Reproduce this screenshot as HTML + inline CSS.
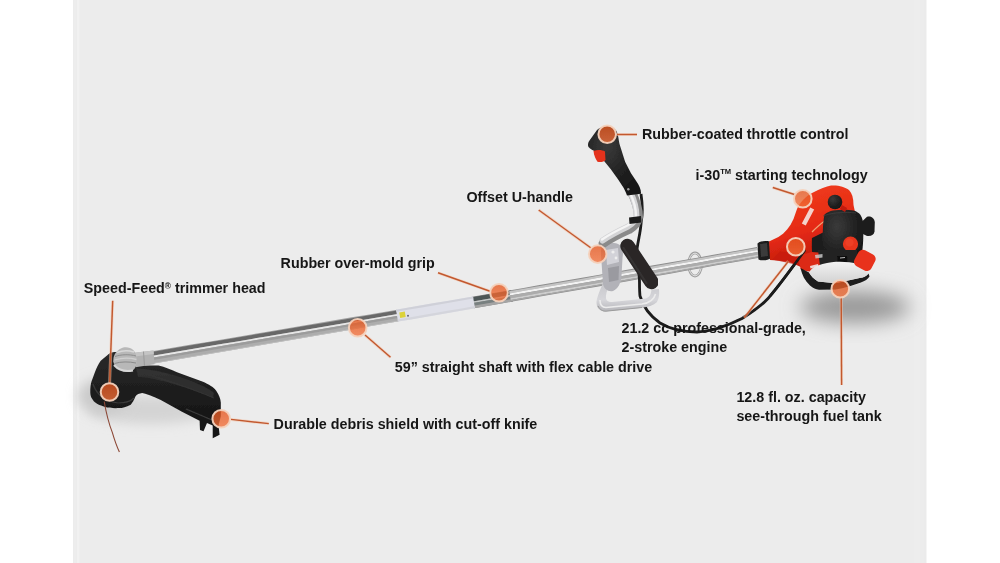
<!DOCTYPE html>
<html><head><meta charset="utf-8">
<style>
html,body{margin:0;padding:0;background:#fff;}
body{width:1000px;height:563px;overflow:hidden;position:relative;}
#panel{position:absolute;left:73px;top:0;width:854px;height:563px;background:#ececec;}
.st{position:absolute;top:0;height:563px;}
svg{position:absolute;left:0;top:0;}
text{font-family:"Liberation Sans",sans-serif;font-weight:bold;font-size:14.3px;fill:#151515;}
</style></head>
<body>
<div id="panel"></div>
<div class="st" style="left:74px;width:2px;background:#ededed"></div>
<div class="st" style="left:77px;width:2px;background:#f1f1f1"></div>
<div class="st" style="left:79px;width:1px;background:#eeeeee"></div>
<div class="st" style="left:914px;width:6px;background:#ededed"></div>
<div class="st" style="left:924px;width:2px;background:#ebebeb"></div>
<div class="st" style="left:926px;width:1px;background:#f5f5f5"></div>
<svg width="1000" height="563" viewBox="0 0 1000 563">
<defs>
  <filter id="blur10" x="-60%" y="-60%" width="220%" height="220%"><feGaussianBlur stdDeviation="10"/></filter>
  <filter id="blur6" x="-60%" y="-60%" width="220%" height="220%"><feGaussianBlur stdDeviation="6"/></filter>
  <filter id="tb" x="-5%" y="-30%" width="110%" height="160%"><feGaussianBlur stdDeviation="0.3"/></filter>
  <filter id="sb" x="-5%" y="-50%" width="110%" height="200%"><feGaussianBlur stdDeviation="0.55"/></filter>
  <filter id="b5" x="-20%" y="-20%" width="140%" height="140%"><feGaussianBlur stdDeviation="0.5"/></filter>
  <filter id="b7" x="-20%" y="-20%" width="140%" height="140%"><feGaussianBlur stdDeviation="0.65"/></filter>
  <filter id="b8" x="-20%" y="-20%" width="140%" height="140%"><feGaussianBlur stdDeviation="0.8"/></filter>
  <linearGradient id="gHead" x1="0" y1="0" x2="0" y2="1">
    <stop offset="0" stop-color="#2a2a2a"/><stop offset="0.5" stop-color="#1c1c1c"/><stop offset="1" stop-color="#121212"/>
  </linearGradient>
  <linearGradient id="gSilverV" x1="0" y1="0" x2="0" y2="1">
    <stop offset="0" stop-color="#d2d2d2"/><stop offset="0.45" stop-color="#b4b4b4"/><stop offset="1" stop-color="#7c7c7c"/>
  </linearGradient>
  <linearGradient id="gSilverH" x1="0" y1="0" x2="1" y2="0">
    <stop offset="0" stop-color="#8a8a8a"/><stop offset="0.35" stop-color="#e6e6e6"/><stop offset="0.7" stop-color="#b0b0b0"/><stop offset="1" stop-color="#6e6e6e"/>
  </linearGradient>
  <radialGradient id="gGear" cx="0.4" cy="0.35" r="0.7">
    <stop offset="0" stop-color="#e0e0e0"/><stop offset="0.6" stop-color="#a8a8a8"/><stop offset="1" stop-color="#707070"/>
  </radialGradient>
  <linearGradient id="gRed" x1="0" y1="0" x2="0.3" y2="1">
    <stop offset="0" stop-color="#f2401f"/><stop offset="0.6" stop-color="#e52a14"/><stop offset="1" stop-color="#b8180c"/>
  </linearGradient>
  <linearGradient id="gCirc" x1="0" y1="0" x2="0" y2="1">
    <stop offset="0" stop-color="#e4561f"/><stop offset="1" stop-color="#f2703a"/>
  </linearGradient>
  <linearGradient id="gLoop" x1="0" y1="0" x2="0" y2="1">
    <stop offset="0" stop-color="#c8c8cc"/><stop offset="0.6" stop-color="#d6d6da"/><stop offset="1" stop-color="#b4b4b8"/>
  </linearGradient>
  <linearGradient id="gTank" x1="0" y1="0" x2="0" y2="1">
    <stop offset="0" stop-color="#f2f2f2"/><stop offset="1" stop-color="#d2d2d2"/>
  </linearGradient>
  <radialGradient id="gBlack" cx="0.35" cy="0.3" r="0.8">
    <stop offset="0" stop-color="#3a3a3a"/><stop offset="0.6" stop-color="#202020"/><stop offset="1" stop-color="#151515"/>
  </radialGradient>
</defs>

<ellipse cx="855" cy="307" rx="55" ry="16" fill="#979797" filter="url(#blur10)"/>
<ellipse cx="150" cy="410" rx="62" ry="14" fill="#d4d4d4" filter="url(#blur6)"/>
<ellipse cx="104" cy="396" rx="26" ry="18" fill="#cacaca" filter="url(#blur6)"/>

<g filter="url(#b5)">
<ellipse cx="695" cy="264.5" rx="6.6" ry="11.6" fill="none" stroke="#a0a0a0" stroke-width="2.6"/>
<ellipse cx="695" cy="264.5" rx="6.4" ry="11.4" fill="none" stroke="#e4e4e4" stroke-width="1"/>
</g>
<g filter="url(#sb)">
<path d="M149.0,351.7 L163.6,349.2 L178.1,346.8 L192.7,344.3 L207.3,341.9 L221.9,339.4 L236.5,337.0 L251.1,334.5 L265.7,332.0 L280.3,329.6 L294.9,327.1 L309.5,324.6 L324.0,322.1 L338.6,319.6 L353.2,317.1 L367.8,314.7 L382.4,312.2 L397.0,309.7 L399.0,321.3 L384.4,323.8 L369.8,326.3 L355.2,328.9 L340.7,331.4 L326.1,333.9 L311.5,336.4 L296.9,338.9 L282.3,341.5 L267.7,344.0 L253.1,346.5 L238.6,349.0 L224.0,351.5 L209.4,354.0 L194.8,356.5 L180.2,358.9 L165.6,361.4 L151.0,363.9Z" fill="#a0a0a0"/>
<path d="M149.1,352.4 L163.7,350.0 L178.3,347.5 L192.9,345.1 L207.5,342.6 L222.0,340.2 L236.6,337.7 L251.2,335.2 L265.8,332.8 L280.4,330.3 L295.0,327.8 L309.6,325.3 L324.2,322.9 L338.8,320.4 L353.4,317.9 L367.9,315.4 L382.5,312.9 L397.1,310.4 L397.7,313.9 L383.1,316.4 L368.6,318.9 L354.0,321.4 L339.4,323.9 L324.8,326.4 L310.2,328.9 L295.6,331.4 L281.0,333.9 L266.4,336.4 L251.8,338.9 L237.3,341.4 L222.7,343.8 L208.1,346.3 L193.5,348.8 L178.9,351.2 L164.3,353.7 L149.7,356.2Z" fill="#686868"/>
<path d="M149.7,356.2 L164.3,353.7 L178.9,351.2 L193.5,348.8 L208.1,346.3 L222.7,343.8 L237.3,341.4 L251.8,338.9 L266.4,336.4 L281.0,333.9 L295.6,331.4 L310.2,328.9 L324.8,326.4 L339.4,323.9 L354.0,321.4 L368.6,318.9 L383.1,316.4 L397.7,313.9 L398.1,315.8 L383.5,318.3 L368.9,320.8 L354.3,323.3 L339.7,325.9 L325.1,328.4 L310.5,330.9 L295.9,333.4 L281.4,335.8 L266.8,338.3 L252.2,340.8 L237.6,343.3 L223.0,345.8 L208.4,348.3 L193.8,350.7 L179.2,353.2 L164.6,355.7 L150.1,358.1Z" fill="#e6e6e6"/>
<path d="M150.1,358.1 L164.6,355.7 L179.2,353.2 L193.8,350.7 L208.4,348.3 L223.0,345.8 L237.6,343.3 L252.2,340.8 L266.8,338.3 L281.4,335.8 L295.9,333.4 L310.5,330.9 L325.1,328.4 L339.7,325.9 L354.3,323.3 L368.9,320.8 L383.5,318.3 L398.1,315.8 L398.4,318.1 L383.9,320.6 L369.3,323.1 L354.7,325.6 L340.1,328.1 L325.5,330.7 L310.9,333.2 L296.3,335.7 L281.7,338.2 L267.2,340.7 L252.6,343.2 L238.0,345.7 L223.4,348.1 L208.8,350.6 L194.2,353.1 L179.6,355.6 L165.0,358.1 L150.5,360.5Z" fill="#9c9c9c"/>
<path d="M150.5,360.5 L165.0,358.1 L179.6,355.6 L194.2,353.1 L208.8,350.6 L223.4,348.1 L238.0,345.7 L252.6,343.2 L267.2,340.7 L281.7,338.2 L296.3,335.7 L310.9,333.2 L325.5,330.7 L340.1,328.1 L354.7,325.6 L369.3,323.1 L383.9,320.6 L398.4,318.1 L398.9,320.6 L384.3,323.1 L369.7,325.6 L355.1,328.1 L340.5,330.7 L325.9,333.2 L311.4,335.7 L296.8,338.2 L282.2,340.7 L267.6,343.2 L253.0,345.7 L238.4,348.2 L223.8,350.7 L209.3,353.2 L194.7,355.7 L180.1,358.2 L165.5,360.7 L150.9,363.2Z" fill="#adadad"/>
<path d="M150.9,363.2 L165.5,360.7 L180.1,358.2 L194.7,355.7 L209.3,353.2 L223.8,350.7 L238.4,348.2 L253.0,345.7 L267.6,343.2 L282.2,340.7 L296.8,338.2 L311.4,335.7 L325.9,333.2 L340.5,330.7 L355.1,328.1 L369.7,325.6 L384.3,323.1 L398.9,320.6 L399.0,321.3 L384.4,323.8 L369.8,326.3 L355.2,328.9 L340.7,331.4 L326.1,333.9 L311.5,336.4 L296.9,338.9 L282.3,341.5 L267.7,344.0 L253.1,346.5 L238.6,349.0 L224.0,351.5 L209.4,354.0 L194.8,356.5 L180.2,358.9 L165.6,361.4 L151.0,363.9Z" fill="#c4c4c4"/>
</g>
<g filter="url(#sb)">
<path d="M472.0,296.8 L485.0,294.5 L498.0,292.3 L511.0,290.1 L513.0,301.4 L500.0,303.7 L487.0,306.0 L474.0,308.2Z" fill="#868686"/>
<path d="M472.1,297.3 L485.1,295.1 L498.1,292.8 L511.1,290.6 L511.8,294.6 L498.8,296.9 L485.8,299.2 L472.8,301.4Z" fill="#4e5656"/>
<path d="M472.8,301.4 L485.8,299.2 L498.8,296.9 L511.8,294.6 L512.1,296.3 L499.1,298.5 L486.1,300.8 L473.1,303.0Z" fill="#c4c8c8"/>
<path d="M473.1,303.0 L486.1,300.8 L499.1,298.5 L512.1,296.3 L512.6,299.0 L499.6,301.2 L486.6,303.5 L473.6,305.8Z" fill="#788080"/>
<path d="M473.6,305.8 L486.6,303.5 L499.6,301.2 L512.6,299.0 L513.0,301.4 L500.0,303.7 L487.0,306.0 L474.0,308.2Z" fill="#a4a4a4"/>
</g>
<g filter="url(#sb)">
<path d="M509.0,290.4 L523.6,287.9 L538.2,285.3 L552.8,282.8 L567.4,280.3 L582.0,277.7 L596.6,275.2 L611.1,272.7 L625.7,270.1 L640.3,267.6 L654.9,265.0 L669.5,262.5 L684.1,259.9 L698.7,257.4 L713.3,254.8 L727.9,252.2 L742.5,249.7 L757.0,247.1 L759.0,257.8 L744.4,260.4 L729.8,263.0 L715.2,265.6 L700.6,268.2 L686.0,270.8 L671.4,273.4 L656.9,276.0 L642.3,278.6 L627.7,281.2 L613.1,283.8 L598.5,286.4 L583.9,288.9 L569.3,291.5 L554.7,294.1 L540.2,296.6 L525.6,299.2 L511.0,301.7Z" fill="#8e8e8e"/>
<path d="M509.2,291.3 L523.8,288.8 L538.4,286.3 L552.9,283.7 L567.5,281.2 L582.1,278.7 L596.7,276.1 L611.3,273.6 L625.9,271.0 L640.5,268.5 L655.1,265.9 L669.7,263.4 L684.2,260.8 L698.8,258.2 L713.4,255.7 L728.0,253.1 L742.6,250.5 L757.2,247.9 L757.5,249.9 L743.0,252.5 L728.4,255.1 L713.8,257.6 L699.2,260.2 L684.6,262.8 L670.0,265.3 L655.4,267.9 L640.8,270.5 L626.2,273.0 L611.7,275.6 L597.1,278.1 L582.5,280.7 L567.9,283.2 L553.3,285.8 L538.7,288.3 L524.1,290.8 L509.5,293.4Z" fill="#c4c4c4"/>
<path d="M509.5,293.4 L524.1,290.8 L538.7,288.3 L553.3,285.8 L567.9,283.2 L582.5,280.7 L597.1,278.1 L611.7,275.6 L626.2,273.0 L640.8,270.5 L655.4,267.9 L670.0,265.3 L684.6,262.8 L699.2,260.2 L713.8,257.6 L728.4,255.1 L743.0,252.5 L757.5,249.9 L757.9,252.0 L743.3,254.6 L728.8,257.2 L714.2,259.8 L699.6,262.4 L685.0,265.0 L670.4,267.5 L655.8,270.1 L641.2,272.7 L626.6,275.2 L612.0,277.8 L597.5,280.4 L582.9,282.9 L568.3,285.5 L553.7,288.0 L539.1,290.6 L524.5,293.1 L509.9,295.6Z" fill="#f2f2f2"/>
<path d="M509.9,295.6 L524.5,293.1 L539.1,290.6 L553.7,288.0 L568.3,285.5 L582.9,282.9 L597.5,280.4 L612.0,277.8 L626.6,275.2 L641.2,272.7 L655.8,270.1 L670.4,267.5 L685.0,265.0 L699.6,262.4 L714.2,259.8 L728.8,257.2 L743.3,254.6 L757.9,252.0 L758.4,254.5 L743.8,257.1 L729.2,259.7 L714.6,262.3 L700.0,264.9 L685.4,267.5 L670.8,270.0 L656.3,272.6 L641.7,275.2 L627.1,277.8 L612.5,280.3 L597.9,282.9 L583.3,285.5 L568.7,288.0 L554.1,290.6 L539.6,293.1 L525.0,295.7 L510.4,298.2Z" fill="#acacac"/>
<path d="M510.4,298.2 L525.0,295.7 L539.6,293.1 L554.1,290.6 L568.7,288.0 L583.3,285.5 L597.9,282.9 L612.5,280.3 L627.1,277.8 L641.7,275.2 L656.3,272.6 L670.8,270.0 L685.4,267.5 L700.0,264.9 L714.6,262.3 L729.2,259.7 L743.8,257.1 L758.4,254.5 L758.7,256.3 L744.1,258.9 L729.5,261.5 L714.9,264.1 L700.3,266.7 L685.7,269.3 L671.2,271.9 L656.6,274.5 L642.0,277.0 L627.4,279.6 L612.8,282.2 L598.2,284.8 L583.6,287.3 L569.1,289.9 L554.5,292.5 L539.9,295.0 L525.3,297.6 L510.7,300.1Z" fill="#cdcdcd"/>
<path d="M510.7,300.1 L525.3,297.6 L539.9,295.0 L554.5,292.5 L569.1,289.9 L583.6,287.3 L598.2,284.8 L612.8,282.2 L627.4,279.6 L642.0,277.0 L656.6,274.5 L671.2,271.9 L685.7,269.3 L700.3,266.7 L714.9,264.1 L729.5,261.5 L744.1,258.9 L758.7,256.3 L758.9,257.3 L744.3,259.9 L729.7,262.5 L715.1,265.1 L700.5,267.7 L685.9,270.3 L671.3,272.9 L656.8,275.5 L642.2,278.1 L627.6,280.7 L613.0,283.2 L598.4,285.8 L583.8,288.4 L569.2,291.0 L554.7,293.5 L540.1,296.1 L525.5,298.7 L510.9,301.2Z" fill="#a8a8a8"/>
</g>
<path d="M396.0,309.7 L408.8,307.5 L421.6,305.3 L434.5,303.1 L447.3,300.9 L460.1,298.7 L473.0,296.4 L475.0,308.2 L462.2,310.5 L449.4,312.7 L436.5,314.9 L423.7,317.2 L410.9,319.4 L398.0,321.6Z" fill="#dfe0e9"/>
<path d="M396.0,309.7 L408.8,307.5 L421.6,305.3 L434.5,303.1 L447.3,300.9 L460.1,298.7 L473.0,296.4 L473.3,298.5 L460.5,300.7 L447.7,302.9 L434.8,305.2 L422.0,307.4 L409.2,309.6 L396.3,311.8Z" fill="#cfd0d8"/>
<path d="M397.7,319.5 L410.5,317.3 L423.3,315.1 L436.2,312.8 L449.0,310.6 L461.8,308.4 L474.7,306.1 L475.0,308.2 L462.2,310.5 L449.4,312.7 L436.5,314.9 L423.7,317.2 L410.9,319.4 L398.0,321.6Z" fill="#d4d5dc"/>
<rect x="399.7" y="311.9" width="5.6" height="5.6" fill="#dcd23a" transform="rotate(-9.5 402.5 314.7)"/>
<circle cx="408.0" cy="315.8" r="1" fill="#667"/>
<g filter="url(#b5)">
<path d="M107.6,355 C111,352 114,351.5 118,352.5 L133,365.4 L158.5,365.4 C165,367 171,369.5 177,372.3 L202.3,381.6 C209,384.5 214,387.5 216.2,390.8 C219,395 220.5,398.5 220.8,402.4 L220.8,416.2 L218.5,425.5 L219.6,434.7 L212.7,438.2 L212.7,425.5 L207,423.1 L203.5,431.2 L200,430 L199.6,420.8 L181.5,411.6 L160.8,400 C153,396.5 147,394 142.3,393.1 C139,393.5 137,394.5 135.4,396.6 C134,400 132.5,403 130.7,404.7 C126,407 122.5,408 119.2,408.1 C113,408.3 108.5,408 105.3,407 C99,405 96,403.5 93.8,401.2 C91.5,398.5 90.3,396 90.3,393.1 C90.2,388 90.6,384.5 91.5,381.6 L94.9,372.3 C96.5,367.5 98.5,364 100.7,360.8 Z" fill="url(#gHead)"/>
<path d="M93,384 C96,393 104,401 118,403 C126,403 131,401 134,398" stroke="#3a3a3a" stroke-width="1.2" fill="none"/>
<path d="M136,368 C150,369 165,372 180,377 C195,382 207,387 214,393 L213,398 C200,392 185,387 170,383 C155,379 145,377 138,377 Z" fill="#333" opacity="0.8"/>
<path d="M140,372 C160,378 190,388 214,398" stroke="#333" stroke-width="1" fill="none"/>
<path d="M186,409 L212,420" stroke="#3c3c3c" stroke-width="1.3" fill="none"/>
</g>
<!-- gear head -->
<g filter="url(#b7)">
<path d="M134.5,352.8 L153.5,350.6 L154.5,364.2 L135.5,367.2 Z" fill="#b2b2b2"/>
<path d="M134.5,352.8 L153.5,350.6 L153.8,354 L135,356.5 Z" fill="#c4c4c4"/>
<path d="M143.5,351.6 L144.5,366" stroke="#9a9a9a" stroke-width="1"/>
<path d="M113.5,358 C114.5,353 118,349.5 122.5,347.8 C126.5,346.8 130.5,347.5 133.2,350 C136,352.5 136.8,357 136.6,362 C136.4,366.5 134.5,370 131.4,371 C127,372.2 123,371.8 120.5,370.1 C116.5,368 113.8,364.5 113.2,361.5 Z" fill="#b8b8b8"/>
<path d="M117,352.5 C122,350.5 128,350 134,352" stroke="#d8d8d8" stroke-width="1.6" fill="none"/>
<path d="M115,356.5 C121,354.5 129,354 136,356" stroke="#8e8e8e" stroke-width="1" fill="none"/>
<path d="M114.5,360 C121,358 129,357.5 136.5,359.5" stroke="#d0d0d0" stroke-width="1.3" fill="none"/>
<path d="M114.5,363.5 C121,361.5 129,361.5 136,363" stroke="#8a8a8a" stroke-width="1" fill="none"/>
<path d="M114,365 C118,369.5 125,372 133,370.5" stroke="#d6d6d6" stroke-width="2" fill="none"/>
</g>
<!-- trimmer line -->
<path d="M104.2,401.5 C106,412 109,424 112.3,432.4 C114.5,440 117,447 119.4,452" stroke="#8c4836" stroke-width="1.1" fill="none"/>

<!-- cable -->
<path d="M641,194 C642.5,204 642.8,214 641.2,222 C640.5,234 637,244 636.8,252 C636.6,262 639.5,272 639.5,282 C639.5,288 639.5,292 640,296 C643,306 650,316 660,323 C670,329 684,332 697,332 C712,331.5 727,326 742,318.5 C754,311 763,304 768,298.5 C778,287 792,268 805,250" stroke="#1a1a1a" stroke-width="2.8" fill="none" filter="url(#b5)"/>
<g filter="url(#b5)">
<!-- lower loop -->
<path d="M603,283 C600,290 597,297 596.5,302 C596.5,307 598.5,310.5 604,311.5 L642,307.8 C648,307 653,305.5 656.5,302.5 C659,299.5 659.5,294 659,289 L651.5,289.5 C651,294 650,297 646,298.5 L612,302 C608.5,302.3 606.5,301 606,298.5 C605.5,295 607,290 609,286 Z" fill="url(#gLoop)"/>
<path d="M600,300 C600,305 602,307.5 606,307.5 L642,304 C649,303 654,300 655.5,294" stroke="#ececec" stroke-width="1.6" fill="none"/>
<path d="M598,306 C600,310 603,311.2 606,311.2 L642,307.5" stroke="#9a9a9a" stroke-width="1" fill="none"/>
<!-- clamp -->
<path d="M602,246 C606,243 614,242 619,244.5 C623,247 623.5,252 622.5,258 L621.5,276 C621,283 618,289 613,291 C608,292 604,289 603,284 L601.5,262 C601,255 600.5,250 602,246 Z" fill="#b2b2b8"/>
<path d="M606,250 L618,248 L619,262 L607,265 Z" fill="#d2d2d8"/>
<circle cx="613" cy="252" r="1.6" fill="#eeeeee"/><circle cx="616" cy="258" r="1.4" fill="#eeeeee"/>
<path d="M608,268 L619,266 L618.5,280 L609,282 Z" fill="#9a9aa0"/>
<!-- upper tube -->
<path d="M631.5,192 C636,201 638.5,209 638.5,217 C638,223 635,226 629,229.5 C620,233.5 611,238 603,243.5" stroke="#8a8a8a" stroke-width="9" fill="none" stroke-linecap="round"/>
<path d="M630.5,192.5 C634.5,201 636.5,209 636.5,216.5 C636,221 633,223.5 628,226.5 C619.5,230.5 610.5,235 602.5,240.5" stroke="#d4d4d6" stroke-width="6" fill="none" stroke-linecap="round"/>
<path d="M630,193 C634,201 636,209 636,216 C635.5,220 632.5,222.5 627.5,225.5 C619,229.5 610,234 602,239.5" stroke="#f4f4f4" stroke-width="2.4" fill="none" stroke-linecap="round"/>
<path d="M629,217.5 L641,216 L641.5,222.5 L629.5,224 Z" fill="#1c1c1c"/>
</g>
<!-- left grip -->
<g filter="url(#b5)">
<path d="M627.5,246 L651.5,282" stroke="#2a2727" stroke-width="14.5" stroke-linecap="round"/>
<path d="M623.5,248 L646.5,283" stroke="#3a3838" stroke-width="2" stroke-linecap="round" opacity="0.7"/>
</g>
<!-- throttle grip -->
<g filter="url(#b5)">
<path d="M597,130 C603,125 612,125 616.5,131 C618.5,135 618.5,140 619.5,144 L625.1,161.7 L631,173.3 L636.8,182 C639,185 641,189 641.1,193.7 L627,195.5 C626.5,193.5 625,190.5 623.7,187.9 L617.8,179 L610.6,169 L604.7,161.7 L601,157 L596,151.5 C593,150.5 590.5,149.5 588.5,147 C587.5,145 588,142.5 589.5,140.5 Z" fill="url(#gBlack)"/>
<path d="M593.5,151 C597,149.5 602,149.5 605,151.5 L605.5,160 C604,162 600,162.5 597.5,161.7 C595.5,159 594,155.5 593.5,151 Z" fill="#e4321c"/>
<circle cx="628.3" cy="189.2" r="1.2" fill="#9a9a9a"/>
</g>

<g filter="url(#b5)">
<!-- collar -->
<path d="M757.5,243.5 C760,241 766,240.5 769.5,241.5 L771,258 C768,260.5 762,261 758.5,259.5 Z" fill="#1a1a1a"/>
<path d="M760,244 L767,243 L768,256 L761,257 Z" fill="#3a3a3a"/>
<!-- red housing -->
<path d="M769,241.5 L778.4,237 C785,233 790,227 793.5,219 L797,209 C800,202 806,196 813,192.5 C820,189 826,186.5 831,185.6 C838,185 845,187 849,190 C852,193 853.5,198 853.5,205 L855,212 L857,230 L856,255 L846,266 L816,270 L803,268 L790,262 L778,260.5 L770,260 Z" fill="url(#gRed)"/>
<path d="M780,251 L796,254 L806,258 L810,264 L798,265 L784,262 L772,259.5 Z" fill="#c81e10" opacity="0.8"/>
<!-- logo -->
<g transform="translate(808,216.5) rotate(-62)"><rect x="-9" y="-2.2" width="18" height="4.4" fill="#f4e4e0" opacity="0.9"/></g>
<path d="M812,232 C818,226 823,222 826,220" stroke="#f0c090" stroke-width="1.3" fill="none" opacity="0.8"/>
<!-- black cover -->
<path d="M812,238 L824,232 L826,262 L814,266 C812,258 811.5,248 812,238 Z" fill="#1e1e1e"/>
<path d="M815,254 L821,252 L821.5,256 L815.5,257.5 Z" fill="#d8d8d8" opacity="0.8"/>
<path d="M824.5,214.5 C827,212.5 830,211 833,210.5 C840,209.5 848,209.5 853.5,210.5 C857,211.5 859,213 860.5,215 C862.5,218 863.3,222 863.5,226 L863.3,236 C863.2,242 862.8,248 862,253 C860.5,256.5 858,258.5 855,259.6 C849,261.8 844,263.5 840.3,264.5 C835,265.5 830,265.2 827,264.5 C824.5,263 823.5,261 823,258 C822.6,250 822.6,240 822.8,232 C823,225 823.5,219 824.5,214.5 Z" fill="url(#gBlack)"/>
<path d="M823,216 C830,213 845,211.5 856,213" stroke="#444" stroke-width="1" fill="none" opacity="0.6"/>
<!-- knob -->
<circle cx="835" cy="202" r="7.3" fill="url(#gBlack)"/>
<path d="M842,205 L847,208 L845,212 L840,209 Z" fill="#c01a10"/>
<!-- pull handle -->
<path d="M860.5,223 L867,216.8 C871,215.5 874.5,218 874.8,222.5 L874.5,231.5 C874,235 871,236.5 866.5,235.8 L862,233.5 Z" fill="#1c1c1c"/>
<!-- red circle -->
<circle cx="850.5" cy="244" r="7.6" fill="#e8361e"/>
<circle cx="849.5" cy="242.5" r="4" fill="#f04a2a" opacity="0.6"/>
<!-- red lower part -->
<path d="M797,256 L812,252 L825,253 L825,268 L812,272 L801,270 Z" fill="#dc2a14"/>
<path d="M810,266 L818,264 L818.5,266.5 L810.5,268.5 Z" fill="#f2f2f2" opacity="0.85"/>
<!-- mechanism -->
<path d="M818,250 L857,250 L858,264 L820,266 Z" fill="#222"/>
<path d="M815,255 L822.5,254 L822.5,257.5 L815.5,258.5 Z" fill="#d0d0d0" opacity="0.8"/>
<path d="M837,256 L847,256 L847.5,265 L837.5,265.5 Z" fill="#111"/>
<path d="M840,258 L845,257.5" stroke="#bbb" stroke-width="1"/>
<!-- tank base -->
<path d="M800.5,268 C802,275 805,281 810,285.5 C813,288 816,289.5 819,289.8 L835.4,289.6 C845,288 853,285.5 860.8,282.6 C865,281 868,279 869.5,276.5 L868.5,273.5 C866,276.5 863,277.5 860.8,277.8 L835.4,283.3 L818,281.5 C814,279 811,276 809,272.5 Z" fill="#1a1a1a"/>
<!-- tank -->
<path d="M809,272.5 C811,269 814,266.5 818,265.5 C824,263.5 830,262.2 836,261.8 C844,261.5 852,262.2 858,264 C863,265.5 866.5,268.5 868.5,273.5 C866,276.5 863,277.5 860.8,277.8 L835.4,283.3 L818,281.5 C814,279 811,276 809,272.5 Z" fill="url(#gTank)"/>
<!-- fuel cap -->
<rect x="-9.5" y="-9" width="19" height="18" rx="5" fill="#e8301a" transform="translate(864.8,260.4) rotate(28)"/>
</g>
<path d="M770,296 C778,287 792,268 805,250" stroke="#1a1a1a" stroke-width="2.6" fill="none" filter="url(#b5)"/>
<g filter="url(#b5)" fill="none">
<line x1="112.7" y1="300.7" x2="109.6" y2="383" stroke="#f4c4aa" stroke-width="3" stroke-opacity="0.55"/>
<line x1="231" y1="419.4" x2="268.8" y2="423.6" stroke="#f4c4aa" stroke-width="3" stroke-opacity="0.55"/>
<line x1="438" y1="272.8" x2="490" y2="291.2" stroke="#f4c4aa" stroke-width="3" stroke-opacity="0.55"/>
<line x1="365" y1="335" x2="390.5" y2="357.3" stroke="#f4c4aa" stroke-width="3" stroke-opacity="0.55"/>
<line x1="538.7" y1="210" x2="591" y2="248" stroke="#f4c4aa" stroke-width="3" stroke-opacity="0.55"/>
<line x1="616.5" y1="134.5" x2="637" y2="134.5" stroke="#f4c4aa" stroke-width="3" stroke-opacity="0.55"/>
<line x1="772.8" y1="187.5" x2="794.5" y2="194.5" stroke="#f4c4aa" stroke-width="3" stroke-opacity="0.55"/>
<line x1="788.4" y1="261.2" x2="744.2" y2="317.7" stroke="#f4c4aa" stroke-width="3" stroke-opacity="0.55"/>
<line x1="841.2" y1="297" x2="841.6" y2="385" stroke="#f4c4aa" stroke-width="3" stroke-opacity="0.55"/>
<line x1="112.7" y1="300.7" x2="109.6" y2="383" stroke="#c2582f" stroke-width="1.45"/>
<line x1="231" y1="419.4" x2="268.8" y2="423.6" stroke="#c2582f" stroke-width="1.45"/>
<line x1="438" y1="272.8" x2="490" y2="291.2" stroke="#c2582f" stroke-width="1.45"/>
<line x1="365" y1="335" x2="390.5" y2="357.3" stroke="#c2582f" stroke-width="1.45"/>
<line x1="538.7" y1="210" x2="591" y2="248" stroke="#c2582f" stroke-width="1.45"/>
<line x1="616.5" y1="134.5" x2="637" y2="134.5" stroke="#c2582f" stroke-width="1.45"/>
<line x1="772.8" y1="187.5" x2="794.5" y2="194.5" stroke="#c2582f" stroke-width="1.45"/>
<line x1="788.4" y1="261.2" x2="744.2" y2="317.7" stroke="#c2582f" stroke-width="1.45"/>
<line x1="841.2" y1="297" x2="841.6" y2="385" stroke="#c2582f" stroke-width="1.45"/>
</g><g filter="url(#b7)">
<circle cx="109.5" cy="392" r="8.8" fill="url(#gCirc)" fill-opacity="0.78" stroke="#f4d2bd" stroke-width="2" stroke-opacity="0.95"/>
<circle cx="221.2" cy="418.8" r="8.8" fill="url(#gCirc)" fill-opacity="0.78" stroke="#f4d2bd" stroke-width="2" stroke-opacity="0.95"/>
<circle cx="357.7" cy="327.8" r="8.8" fill="url(#gCirc)" fill-opacity="0.78" stroke="#f4d2bd" stroke-width="2" stroke-opacity="0.95"/>
<circle cx="499" cy="292.7" r="8.8" fill="url(#gCirc)" fill-opacity="0.78" stroke="#f4d2bd" stroke-width="2" stroke-opacity="0.95"/>
<circle cx="597.7" cy="254.1" r="8.8" fill="url(#gCirc)" fill-opacity="0.78" stroke="#f4d2bd" stroke-width="2" stroke-opacity="0.95"/>
<circle cx="607.2" cy="134.2" r="8.8" fill="url(#gCirc)" fill-opacity="0.78" stroke="#f4d2bd" stroke-width="2" stroke-opacity="0.95"/>
<circle cx="802.8" cy="198.8" r="8.8" fill="url(#gCirc)" fill-opacity="0.78" stroke="#f4d2bd" stroke-width="2" stroke-opacity="0.95"/>
<circle cx="795.8" cy="246.8" r="8.8" fill="url(#gCirc)" fill-opacity="0.78" stroke="#f4d2bd" stroke-width="2" stroke-opacity="0.95"/>
<circle cx="840.3" cy="288.8" r="8.8" fill="url(#gCirc)" fill-opacity="0.78" stroke="#f4d2bd" stroke-width="2" stroke-opacity="0.95"/>
</g>
<g filter="url(#tb)">
<text x="642" y="139">Rubber-coated throttle control</text>
<text x="695.5" y="179.5">i-30<tspan font-size="7.6" dy="-5.2">TM</tspan><tspan dy="5.2"> starting technology</tspan></text>
<text x="466.4" y="201.6">Offset U-handle</text>
<text x="280.6" y="267.5">Rubber over-mold grip</text>
<text x="83.8" y="292.9">Speed-Feed<tspan font-size="8.3" dy="-4">®</tspan><tspan dy="4"> trimmer head</tspan></text>
<text x="621.5" y="333.1">21.2 cc professional-grade,</text>
<text x="621.5" y="352.2">2-stroke engine</text>
<text x="394.8" y="371.8">59” straight shaft with flex cable drive</text>
<text x="736.4" y="402">12.8 fl. oz. capacity</text>
<text x="736.4" y="420.6">see-through fuel tank</text>
<text x="273.6" y="428.9">Durable debris shield with cut-off knife</text>
</g>
</svg>
</body></html>
